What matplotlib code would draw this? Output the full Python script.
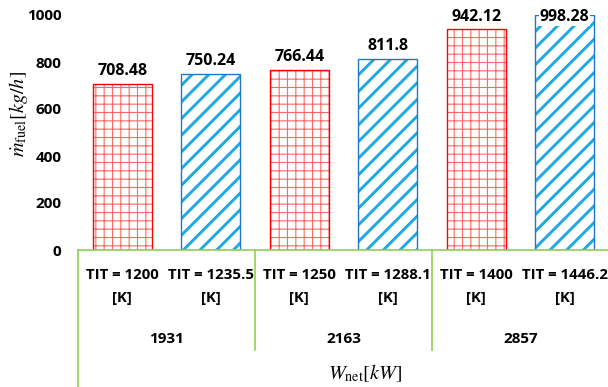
import matplotlib.pyplot as plt
import matplotlib.transforms as mtransforms

plt.rcParams['font.family'] = ['Open Sans', 'DejaVu Sans']
plt.rcParams['mathtext.fontset'] = 'stix'

# fuel mass flow for each case
tit_labels = ['TIT = 1200\n[K]', 'TIT = 1235.5\n[K]', 'TIT = 1250\n[K]',
              'TIT = 1288.1\n[K]', 'TIT = 1400\n[K]', 'TIT = 1446.2\n[K]']
fuel_flow = [708.48, 750.24, 766.44, 811.8, 942.12, 998.28]
w_net = ['1931', '2163', '2857']
y_ticks = [0, 200, 400, 600, 800, 1000]

red = '#FF0000'
red_grid = '#FF6666'
blue_edge = '#1F77C8'
blue_stripe = '#1EA8E4'
axis_green = '#92D050'

fig = plt.figure(figsize=(6.08, 3.87), dpi=100)
ax = fig.add_axes([78 / 608, 1 - 250 / 387, 531 / 608, 235 / 387])

x = list(range(len(fuel_flow)))
for i, v in enumerate(fuel_flow):
    if i % 2 == 0:
        with plt.rc_context({'hatch.linewidth': 0.8}):
            ax.bar(i, v, width=0.67, color='white', edgecolor=red_grid,
                   hatch='++', linewidth=0)
        ax.bar(i, v, width=0.67, color='none', edgecolor=red, linewidth=1.0)
    else:
        with plt.rc_context({'hatch.linewidth': 2.1}):
            ax.bar(i, v, width=0.67, color='white', edgecolor=blue_stripe,
                   hatch='//', linewidth=0)
        ax.bar(i, v, width=0.67, color='none', edgecolor=blue_edge, linewidth=1.0)
    ax.text(i, min(v + 55, 992), f'{v:g}', ha='center', va='center',
            fontsize=11.5, fontweight='bold',
            bbox=dict(facecolor='white', edgecolor='none', pad=0.5))

ax.set_xlim(-0.5, len(fuel_flow) - 0.5)
ax.set_ylim(0, 1000)
ax.set_yticks(y_ticks)
ax.set_yticklabels([str(t) for t in y_ticks], fontsize=11, fontweight='bold')
ax.set_xticks(x)
ax.set_xticklabels(tit_labels, fontsize=10.8, fontweight='bold', linespacing=1.85)
ax.tick_params(axis='y', length=0, pad=12)
ax.tick_params(axis='x', length=0, pad=13)

for side in ['left', 'right', 'top']:
    ax.spines[side].set_visible(False)
ax.spines['bottom'].set_color(axis_green)
ax.spines['bottom'].set_linewidth(1.2)

# group separators below the axis
trans = mtransforms.blended_transform_factory(ax.transData, ax.transAxes)
bottom_full = -(387 - 250) / 235
bottom_group = -(350 - 250) / 235
ax.plot([-0.5, -0.5], [0, bottom_full], color=axis_green, lw=1.2,
        transform=trans, clip_on=False)
for sep in [1.5, 3.5]:
    ax.plot([sep, sep], [0, bottom_group], color=axis_green, lw=1.2,
            transform=trans, clip_on=False)

for g, name in enumerate(w_net):
    ax.text(2 * g + 0.5, -(339 - 250) / 235, name, transform=trans,
            ha='center', va='center', fontsize=11, fontweight='bold')

fig.text(365 / 608, 1 - 374 / 387, r'$W_{\rm net}[kW]$', ha='center',
         va='center', fontsize=14.5)
fig.text(18 / 608, 1 - 114 / 387, r'$\dot{m}_{\rm fuel}[kg/h]$', ha='center',
         va='center', fontsize=14.5, rotation=90)

fig.savefig('out.png', dpi=100)
